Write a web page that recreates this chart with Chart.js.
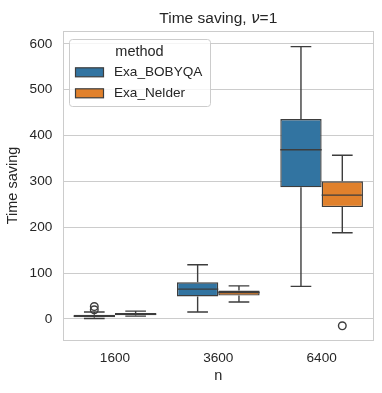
<!DOCTYPE html>
<html>
<head>
<meta charset="utf-8">
<script src="https://cdn.jsdelivr.net/npm/chart.js@4/dist/chart.umd.min.js"></script>
<style>
  html, body { margin: 0; padding: 0; background: #fff; }
  #wrap { width: 382px; height: 393px; position: relative; }
</style>
</head>
<body>
<div id="wrap"><canvas id="chart"></canvas></div>
<script>
// data
const categories = ['1600', '3600', '6400'];
const methods = ['Exa_BOBYQA', 'Exa_Nelder'];

const bobyqaLow = [1, 15, 71];
const bobyqaQ1 = [3.5, 49, 287];
const bobyqaMedian = [6, 65, 369];
const bobyqaQ3 = [9, 80, 436];
const bobyqaHigh = [15, 118, 594];
const bobyqaOutliers = [[20, 27], [], []];

const nelderLow = [6, 37, 188];
const nelderQ1 = [8, 51, 244];
const nelderMedian = [10.5, 57.5, 270];
const nelderQ3 = [13, 62, 300];
const nelderHigh = [17, 72, 357];
const nelderOutliers = [[], [], [-15]];

const yTicks = [0, 100, 200, 300, 400, 500, 600];

const colors = ['#3274a1', '#e1812c'];
const edge = '#3d3d3d';
const textColor = '#262626';
const gridColor = '#cccccc';
const FONT = '"Liberation Sans", Arial, sans-serif';

const stats = [
  { low: bobyqaLow, q1: bobyqaQ1, med: bobyqaMedian, q3: bobyqaQ3, high: bobyqaHigh, out: bobyqaOutliers },
  { low: nelderLow, q1: nelderQ1, med: nelderMedian, q3: nelderQ3, high: nelderHigh, out: nelderOutliers }
];

// whiskers, medians, fliers, frame
const boxPlugin = {
  id: 'boxExtras',
  beforeDatasetsDraw(chart) {
    const { ctx } = chart;
    const y = chart.scales.y;
    ctx.save();
    ctx.strokeStyle = edge;
    ctx.lineWidth = 1.4;
    stats.forEach((s, di) => {
      const meta = chart.getDatasetMeta(di);
      meta.data.forEach((bar, i) => {
        const x = bar.x;
        const cap = bar.width / 4;
        const hi = y.getPixelForValue(s.high[i]);
        const lo = y.getPixelForValue(s.low[i]);
        ctx.beginPath();
        ctx.moveTo(x, y.getPixelForValue(s.q3[i]));
        ctx.lineTo(x, hi);
        ctx.moveTo(x - cap, hi);
        ctx.lineTo(x + cap, hi);
        ctx.moveTo(x, y.getPixelForValue(s.q1[i]));
        ctx.lineTo(x, lo);
        ctx.moveTo(x - cap, lo);
        ctx.lineTo(x + cap, lo);
        ctx.stroke();
      });
    });
    ctx.restore();
  },
  afterDatasetsDraw(chart) {
    const { ctx } = chart;
    const y = chart.scales.y;
    ctx.save();
    ctx.strokeStyle = edge;
    ctx.lineWidth = 1.4;
    stats.forEach((s, di) => {
      const meta = chart.getDatasetMeta(di);
      meta.data.forEach((bar, i) => {
        const x = bar.x;
        const half = bar.width / 2;
        const my = y.getPixelForValue(s.med[i]);
        ctx.beginPath();
        ctx.moveTo(x - half, my);
        ctx.lineTo(x + half, my);
        ctx.stroke();
        s.out[i].forEach(v => {
          ctx.beginPath();
          ctx.arc(x, y.getPixelForValue(v), 3.8, 0, Math.PI * 2);
          ctx.stroke();
        });
      });
    });
    ctx.restore();
  },
  afterDraw(chart) {
    const { ctx, chartArea: a } = chart;
    ctx.save();
    // frame
    ctx.strokeStyle = gridColor;
    ctx.lineWidth = 1;
    ctx.strokeRect(Math.round(a.left) + 0.5, Math.round(a.top) + 0.5,
      Math.round(a.right - a.left), Math.round(a.bottom - a.top));

    // title with italic nu
    ctx.fillStyle = textColor;
    ctx.textBaseline = 'middle';
    const p1 = 'Time saving, ';
    const p2 = 'ν';
    const p3 = '=1';
    const tf = '15.5px ' + FONT;
    const tfi = 'italic 15.5px "DejaVu Sans", sans-serif';
    ctx.font = tf;
    const w1 = ctx.measureText(p1).width;
    const w3 = ctx.measureText(p3).width;
    ctx.font = tfi;
    const w2 = ctx.measureText(p2).width;
    let tx = (a.left + a.right) / 2 - (w1 + w2 + w3) / 2;
    const ty = 18.5;
    ctx.textAlign = 'left';
    ctx.font = tf;
    ctx.fillText(p1, tx, ty);
    tx += w1;
    ctx.font = tfi;
    ctx.fillText(p2, tx, ty);
    tx += w2;
    ctx.font = tf;
    ctx.fillText(p3, tx, ty);

    // legend
    const lx = 69, ly = 39, lw = 141, lh = 67;
    ctx.beginPath();
    ctx.roundRect(lx + 0.5, ly + 0.5, lw, lh, 3);
    ctx.fillStyle = 'rgba(255,255,255,0.8)';
    ctx.fill();
    ctx.strokeStyle = gridColor;
    ctx.stroke();
    ctx.fillStyle = textColor;
    ctx.textAlign = 'center';
    ctx.font = '14.5px ' + FONT;
    ctx.fillText('method', lx + lw / 2, 51.5);
    ctx.textAlign = 'left';
    ctx.font = '13.6px ' + FONT;
    methods.forEach((m, i) => {
      const cy = 72.3 + i * 21;
      ctx.fillStyle = colors[i];
      ctx.fillRect(75.5, cy - 4.5, 28, 9);
      ctx.strokeStyle = edge;
      ctx.lineWidth = 1.2;
      ctx.strokeRect(75.5, cy - 4.5, 28, 9);
      ctx.fillStyle = textColor;
      ctx.fillText(m, 114, cy);
    });
    ctx.restore();
  }
};

const datasets = stats.map((s, i) => ({
  label: methods[i],
  data: s.q1.map((v, j) => [v, s.q3[j]]),
  backgroundColor: colors[i],
  borderColor: edge,
  borderWidth: 1.4,
  borderSkipped: false,
  categoryPercentage: 0.8,
  barPercentage: 1.0
}));

new Chart(document.getElementById('chart'), {
  type: 'bar',
  data: { labels: categories, datasets },
  options: {
    responsive: true,
    maintainAspectRatio: false,
    animation: false,
    layout: { padding: { left: 0, right: 8.7, top: 31, bottom: 0 } },
    plugins: {
      legend: { display: false },
      tooltip: { enabled: false },
      title: { display: false }
    },
    scales: {
      x: {
        grid: { display: false, drawTicks: false },
        border: { display: false },
        ticks: { color: textColor, font: { family: FONT, size: 13.6 }, padding: 10 },
        title: { display: true, text: 'n', color: textColor, font: { family: FONT, size: 14.5 }, padding: { top: 0, bottom: 8.5 } },
        afterFit(scale) { scale.height = 53; }
      },
      y: {
        min: -46,
        max: 628,
        grid: { color: gridColor, lineWidth: 1, drawTicks: false },
        border: { display: false },
        afterBuildTicks(scale) { scale.ticks = yTicks.map(v => ({ value: v })); },
        ticks: { color: textColor, font: { family: FONT, size: 13.6 }, padding: 11 },
        title: { display: true, text: 'Time saving', color: textColor, font: { family: FONT, size: 14.5 }, padding: { top: 4, bottom: 0 } },
        afterFit(scale) { scale.width = 63.3; }
      }
    }
  },
  plugins: [boxPlugin]
});
</script>
</body>
</html>
